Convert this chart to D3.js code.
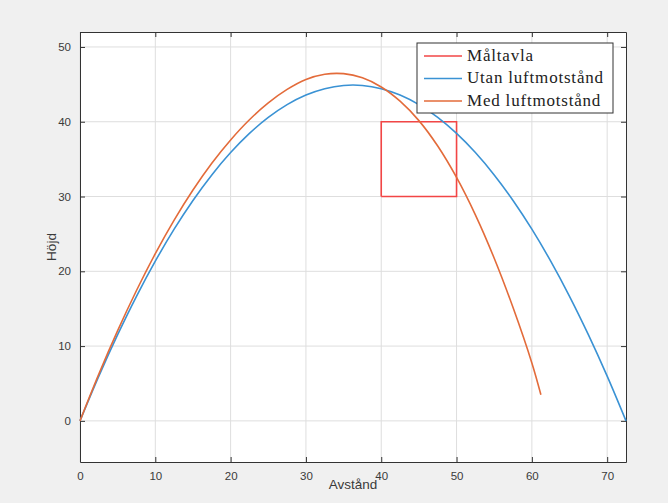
<!DOCTYPE html>
<html>
<head>
<meta charset="utf-8">
<script src="https://cdn.jsdelivr.net/npm/d3@7"></script>
<style>
  body { margin: 0; background: #f0f0f0; }
  svg { display: block; }
</style>
</head>
<body>
<div class="chart"></div>
<script>
// Data
const xTicks = [0, 10, 20, 30, 40, 50, 60, 70];
const yTicks = [0, 10, 20, 30, 40, 50];

// Utan luftmotstånd (blue)
const utanX = [0, 2.5, 5, 7.5, 10, 12.5, 15, 17.5, 20, 22.5, 25, 27.5, 30, 32.5, 35, 37.5, 40, 42.5, 45, 47.5, 50, 52.5, 55, 57.5, 60, 62.5, 65, 67.5, 70, 72.5];
const utanY = [0, 5.98, 11.53, 16.66, 21.36, 25.63, 29.47, 32.89, 35.88, 38.44, 40.58, 42.29, 43.57, 44.42, 44.85, 44.85, 44.42, 43.57, 42.29, 40.58, 38.44, 35.88, 32.89, 29.47, 25.63, 21.36, 16.66, 11.53, 5.98, 0];

// Med luftmotstånd (orange)
const medX = [0, 2.5, 5, 7.5, 10, 12.5, 15, 17.5, 20, 22.5, 25, 27.5, 30, 32.5, 35, 37.5, 40, 42.5, 45, 47.5, 50, 52.5, 55, 57.5, 60, 61.2];
const medY = [0, 6.25, 12.06, 17.43, 22.36, 26.84, 30.87, 34.45, 37.57, 40.27, 42.52, 44.32, 45.65, 46.35, 46.43, 45.87, 44.65, 42.75, 40.15, 36.75, 32.55, 27.55, 21.75, 15.15, 7.75, 3.5];

// Måltavla (red square)
const targetX = [40, 50, 50, 40, 40];
const targetY = [30, 30, 40, 40, 30];

const legendNames = ["Måltavla", "Utan luftmotstånd", "Med luftmotstånd"];
const colors = ["#f24646", "#3a92d4", "#e36b3a"];

const W = 668, H = 503;
const margin = {top: 32, right: 42, bottom: 41, left: 80};
const w = W - margin.left - margin.right;
const h = H - margin.top - margin.bottom;

const svg = d3.select(".chart")
    .append("svg")
        .attr("width", W)
        .attr("height", H);

svg.append("rect")
    .attr("width", W)
    .attr("height", H)
    .attr("fill", "#f0f0f0");

const g = svg.append("g")
    .attr("transform", "translate(" + margin.left + "," + margin.top + ")");

const x = d3.scaleLinear().domain([0, 72.5]).range([0, w]);
const y = d3.scaleLinear().domain([-5.5, 52]).range([h, 0]);

// plot area
g.append("rect")
    .attr("width", w)
    .attr("height", h)
    .attr("fill", "#fff");

// grid
g.append("g")
    .selectAll("line")
    .data(xTicks)
    .enter()
    .append("line")
        .attr("x1", d => x(d)).attr("x2", d => x(d))
        .attr("y1", 0).attr("y2", h)
        .attr("stroke", "#dedede")
        .attr("stroke-width", 1);
g.append("g")
    .selectAll("line")
    .data(yTicks)
    .enter()
    .append("line")
        .attr("x1", 0).attr("x2", w)
        .attr("y1", d => y(d)).attr("y2", d => y(d))
        .attr("stroke", "#dedede")
        .attr("stroke-width", 1);

// axes (ticks pointing inward, box on)
const tickLen = 5;
const styleAxis = sel => {
    sel.select(".domain").attr("stroke", "#333");
    sel.selectAll(".tick line").attr("stroke", "#333");
    sel.selectAll(".tick text")
        .attr("fill", "#3a3a3a")
        .style("font-family", "'Liberation Sans', Arial, sans-serif")
        .style("font-size", "11.5px");
};

g.append("g")
    .attr("transform", "translate(0," + h + ")")
    .call(d3.axisBottom(x).tickValues(xTicks).tickSizeInner(-tickLen).tickSizeOuter(0).tickPadding(10))
    .call(styleAxis);
g.append("g")
    .call(d3.axisTop(x).tickValues(xTicks).tickSizeInner(-tickLen).tickSizeOuter(0).tickFormat(""))
    .call(styleAxis);
g.append("g")
    .call(d3.axisLeft(y).tickValues(yTicks).tickSizeInner(-tickLen).tickSizeOuter(0).tickPadding(9))
    .call(styleAxis);
g.append("g")
    .attr("transform", "translate(" + w + ",0)")
    .call(d3.axisRight(y).tickValues(yTicks).tickSizeInner(-tickLen).tickSizeOuter(0).tickFormat(""))
    .call(styleAxis);

// series
const line = d3.line()
    .x(d => x(d[0]))
    .y(d => y(d[1]));
const smooth = d3.line()
    .x(d => x(d[0]))
    .y(d => y(d[1]))
    .curve(d3.curveCatmullRom);

g.append("path")
    .datum(targetX.map((d, i) => [d, targetY[i]]))
    .attr("d", line)
    .attr("fill", "none")
    .attr("stroke", colors[0])
    .attr("stroke-width", 1.6);

g.append("path")
    .datum(utanX.map((d, i) => [d, utanY[i]]))
    .attr("d", smooth)
    .attr("fill", "none")
    .attr("stroke", colors[1])
    .attr("stroke-width", 1.6);

g.append("path")
    .datum(medX.map((d, i) => [d, medY[i]]))
    .attr("d", smooth)
    .attr("fill", "none")
    .attr("stroke", colors[2])
    .attr("stroke-width", 1.6);

// axis labels
svg.append("text")
    .attr("x", margin.left + w / 2)
    .attr("y", 489)
    .attr("text-anchor", "middle")
    .attr("fill", "#3a3a3a")
    .style("font-family", "'Liberation Sans', Arial, sans-serif")
    .style("font-size", "13.5px")
    .text("Avstånd");

svg.append("text")
    .attr("transform", "translate(56," + (margin.top + h / 2) + ") rotate(-90)")
    .attr("text-anchor", "middle")
    .attr("fill", "#3a3a3a")
    .style("font-family", "'Liberation Sans', Arial, sans-serif")
    .style("font-size", "13.5px")
    .text("Höjd");

// legend
const lg = svg.append("g").attr("transform", "translate(417,43)");
lg.append("rect")
    .attr("width", 196)
    .attr("height", 70)
    .attr("fill", "#fff")
    .attr("stroke", "#333")
    .attr("stroke-width", 1);

const item = lg.selectAll(".item")
    .data(legendNames)
    .enter()
    .append("g")
        .attr("class", "item")
        .attr("transform", (d, i) => "translate(0," + (13 + i * 22.5) + ")");
item.append("line")
    .attr("x1", 7).attr("x2", 45)
    .attr("stroke", (d, i) => colors[i])
    .attr("stroke-width", 1.6);
item.append("text")
    .attr("x", 50)
    .attr("y", 4.5)
    .attr("fill", "#222")
    .style("font-family", "'Liberation Serif', 'Times New Roman', serif")
    .style("font-size", "17px")
    .style("letter-spacing", "0.8px")
    .text(d => d);
</script>
</body>
</html>
